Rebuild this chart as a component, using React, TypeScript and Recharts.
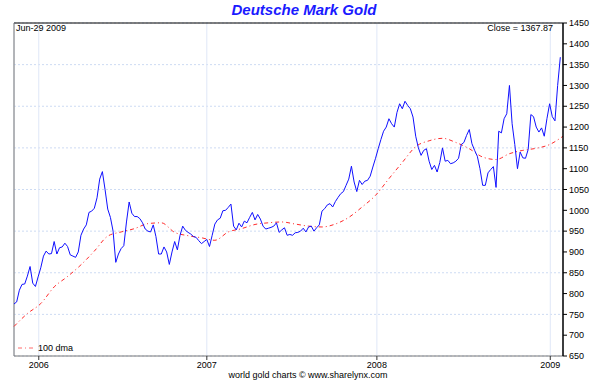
import { LineChart, Line, XAxis, YAxis, CartesianGrid, ReferenceLine } from "recharts"

// x positions are trading-day indexes counted from the first plotted day
const yearTicks = [37, 288, 542, 801]
const yearLabels = ["2006", "2007", "2008", "2009"]
const priceTicks = [650, 700, 750, 800, 850, 900, 950, 1000, 1050, 1100, 1150, 1200, 1250, 1300, 1350, 1400, 1450]

// closing price in DM per oz, one value every 4 trading days
const CLOSE_STEP = 4
const closeValues = [
  775, 780, 808, 822, 823, 842, 865, 825, 817, 840,
  862, 890, 902, 895, 896, 925, 895, 910, 912, 921,
  913, 893, 890, 887, 900, 940, 955, 965, 995, 998,
  1005, 1030, 1075, 1093, 1050, 1003, 983, 950, 875, 895,
  908, 915, 972, 1020, 993, 985, 985, 980, 970, 955,
  950, 948, 965, 937, 895, 895, 912, 900, 870, 900,
  925, 905, 940, 962, 952, 947, 943, 937, 935, 927,
  920, 925, 930, 913, 940, 967, 977, 981, 999, 1000,
  1007, 1015, 962, 953, 969, 960, 974, 970, 983, 995,
  977, 990, 979, 962, 955, 957, 959, 962, 970, 947,
  953, 958, 940, 942, 940, 946, 947, 950, 957, 948,
  960, 962, 950, 958, 965, 998, 1004, 1013, 1016, 1008,
  1021, 1031, 1040, 1045, 1060, 1075, 1106, 1068, 1045, 1072,
  1062, 1070, 1072, 1082, 1104, 1125, 1148, 1170, 1190, 1200,
  1220, 1208, 1200, 1235, 1256, 1244, 1262, 1252, 1244, 1224,
  1178, 1150, 1132, 1144, 1148, 1118, 1098, 1108, 1092, 1115,
  1150, 1118, 1120, 1112, 1114, 1118, 1125, 1158, 1163, 1180,
  1194, 1160, 1144, 1130, 1100, 1060, 1060, 1090, 1098, 1105,
  1055, 1190, 1186, 1220, 1232, 1300, 1208, 1158, 1100, 1140,
  1126, 1125, 1146, 1230, 1225, 1200, 1188, 1198, 1178, 1220,
  1256, 1225, 1215, 1300, 1367.87,
]

// 100 day moving average, one value every 20 trading days
const DMA_STEP = 20
const dmaValues = [
  721, 752, 776, 816, 841, 869, 902, 938, 948, 956,
  968, 970, 947, 939, 934, 928, 948, 956, 966, 970,
  972, 967, 962, 960, 967, 983, 1008, 1036, 1076, 1115,
  1153, 1167, 1173, 1163, 1148, 1128, 1122, 1136, 1144, 1149,
  1158, 1178,
]

const closeData = closeValues.map((v, i) => ({ day: i * CLOSE_STEP, close: v }))
const dmaData = dmaValues.map((v, i) => ({ day: i * DMA_STEP, dma: v }))

const font = "'Liberation Sans', Arial, sans-serif"
const small = { fontFamily: font, fontSize: 9, color: "#000", position: "absolute" as const, whiteSpace: "nowrap" as const }

export default function App() {
  const yearOf = (d: number) => yearLabels[yearTicks.indexOf(d)] ?? ""

  return (
    <div style={{ position: "absolute", left: 0, top: 0, width: 600, height: 390, background: "#fff" }}>
      <div
        style={{
          position: "absolute",
          left: 0,
          top: 1,
          width: 608,
          textAlign: "center",
          fontFamily: font,
          fontWeight: "bold",
          fontStyle: "italic",
          fontSize: 15,
          color: "#1a1aff",
        }}
      >
        Deutsche Mark Gold
      </div>

      <LineChart width={600} height={390} margin={{ top: 23, right: 0, bottom: 14, left: 14 }}>
        <CartesianGrid vertical={false} stroke="#cddbf3" strokeDasharray="2 2" />
        <CartesianGrid horizontal={false} stroke="#dfe7f7" />
        <XAxis
          type="number"
          dataKey="day"
          domain={[0, 820]}
          ticks={yearTicks}
          tickFormatter={yearOf}
          height={20}
          tickSize={4}
          axisLine={{ stroke: "#777" }}
          tickLine={{ stroke: "#333" }}
          tick={{ fontSize: 9, fill: "#000", fontFamily: font }}
        />
        <YAxis
          orientation="right"
          domain={[650, 1450]}
          ticks={priceTicks}
          width={37}
          tickSize={4}
          axisLine={{ stroke: "#000", strokeWidth: 1.5 }}
          tickLine={{ stroke: "#000" }}
          tick={{ fontSize: 9, fill: "#000", fontFamily: font }}
        />
        <ReferenceLine y={1450} stroke="#000" />
        <ReferenceLine x={0} stroke="#777" />
        <Line
          data={dmaData}
          dataKey="dma"
          type="monotone"
          stroke="#ff2a2a"
          strokeWidth={1}
          strokeDasharray="4 3 1 3"
          dot={false}
          isAnimationActive={false}
        />
        <Line
          data={closeData}
          dataKey="close"
          type="linear"
          stroke="#1010ff"
          strokeWidth={1}
          dot={false}
          isAnimationActive={false}
        />
      </LineChart>

      <div style={{ ...small, left: 16, top: 23 }}>Jun-29 2009</div>
      <div style={{ ...small, right: 47, top: 23 }}>Close = 1367.87</div>

      <div style={{ ...small, left: 18, top: 343, display: "flex", alignItems: "center" }}>
        <svg width={16} height={6} style={{ marginRight: 4 }}>
          <line x1={0} y1={3} x2={16} y2={3} stroke="#ff6a6a" strokeDasharray="4 3 1 3" />
        </svg>
        <span>100 dma</span>
      </div>

      <div style={{ ...small, left: 0, width: 616, top: 370, textAlign: "center" }}>
        world gold charts © www.sharelynx.com
      </div>
    </div>
  )
}
